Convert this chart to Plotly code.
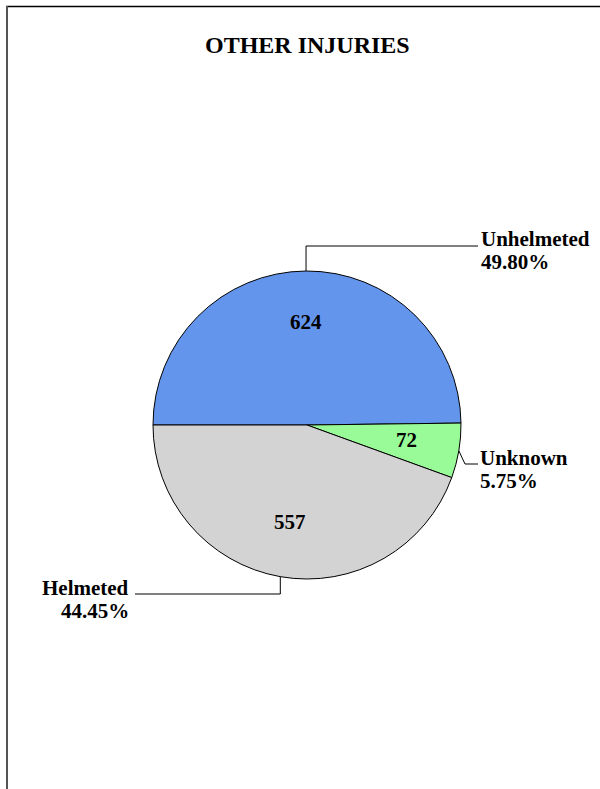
import math
import plotly.graph_objects as go

# Helmet status for "other injuries"
categories = ["Unhelmeted", "Unknown", "Helmeted"]
counts = [624, 72, 557]
colors = ["#6495ED", "#98FB98", "#D3D3D3"]

W, H = 600, 789
CX, CY, R = 307, 425, 154          # pie centre / radius in pixels
FONT = "Liberation Serif, Times New Roman, serif"
FS = 21


def px(x):
    return x / W


def py(y):
    return 1 - y / H


total = sum(counts)
shares = [c / total for c in counts]

# slice mid-angles (degrees, counter-clockwise from 3 o'clock), clockwise from 9 o'clock
mids = []
a = 180.0
for s in shares:
    mids.append(a - 180.0 * s)
    a -= 360.0 * s


def on_pie(angle, frac):
    t = math.radians(angle)
    return CX + frac * R * math.cos(t), CY - frac * R * math.sin(t)


fig = go.Figure(
    go.Pie(
        labels=categories,
        values=counts,
        marker=dict(colors=colors, line=dict(color="black", width=1)),
        sort=False,
        direction="clockwise",
        rotation=270,
        textinfo="none",
        hoverinfo="label+value+percent",
        showlegend=False,
        domain=dict(x=[px(CX - R), px(CX + R)], y=[py(CY + R), py(CY - R)]),
    )
)

annotations = []
shapes = []

# value labels inside the slices
for m, c in zip(mids, counts):
    x, y = on_pie(m, 0.655)
    annotations.append(dict(
        x=px(x), y=py(y - 2), xref="paper", yref="paper", text=f"<b>{c}</b>",
        showarrow=False, xanchor="center", yanchor="middle",
        font=dict(family=FONT, size=FS, color="black"),
    ))


def add_line(x0, y0, x1, y1):
    shapes.append(dict(type="line", xref="paper", yref="paper",
                       x0=px(x0), y0=py(y0), x1=px(x1), y1=py(y1),
                       line=dict(color="black", width=1)))


def add_label(x, baseline, lines, anchor, align):
    for i, t in enumerate(lines):
        annotations.append(dict(
            x=px(x), y=py(baseline + 23 * i - 7), xref="paper", yref="paper",
            text=f"<b>{t}</b>", showarrow=False, xanchor=anchor, yanchor="middle",
            align=align, font=dict(family=FONT, size=FS, color="black"),
        ))


pct = [f"{s * 100:.2f}%" for s in shares]

# Unhelmeted: up from the top of the pie, then right
x0, y0 = on_pie(mids[0], 1.0)
add_line(x0, y0, x0, 246)
add_line(x0, 246, 478, 246)
add_label(479, 246, [categories[0], pct[0]], "left", "left")

# Unknown: short elbow off the right edge
x0, y0 = on_pie(mids[1], 1.0)
add_line(x0, y0, 465, 464)
add_line(465, 464, 478, 464)
add_label(478, 465, [categories[1], pct[1]], "left", "left")

# Helmeted: down from the bottom of the pie, then left
x0, y0 = on_pie(mids[2], 1.0)
add_line(x0, y0, x0, 594)
add_line(x0, 594, 135, 594)
add_label(131, 595, [categories[2], pct[2]], "right", "right")

# title
annotations.append(dict(
    x=px(307), y=py(45), xref="paper", yref="paper", text="<b>OTHER INJURIES</b>",
    showarrow=False, xanchor="center", yanchor="middle",
    font=dict(family=FONT, size=24, color="black"),
))

# chart frame
shapes.append(dict(type="line", xref="paper", yref="paper",
                   x0=px(6), y0=py(6.5), x1=px(W + 5), y1=py(6.5),
                   line=dict(color="black", width=1.5)))
shapes.append(dict(type="line", xref="paper", yref="paper",
                   x0=px(7), y0=py(6), x1=px(7), y1=py(H + 5),
                   line=dict(color="#555555", width=2)))

fig.update_layout(
    width=W, height=H,
    margin=dict(l=0, r=0, t=0, b=0),
    paper_bgcolor="white", plot_bgcolor="white",
    annotations=annotations, shapes=shapes,
)

fig.write_html("out.html")
